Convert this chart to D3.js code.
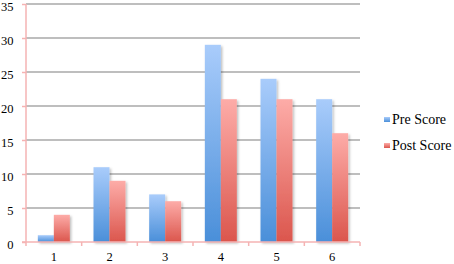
<!DOCTYPE html>
<html>
<head>
<meta charset="utf-8">
<script src="https://cdn.jsdelivr.net/npm/d3@7"></script>
<style>
  body { margin: 0; background: #fff; }
  svg { display: block; }
  text { font-family: "Liberation Serif", "DejaVu Serif", serif; fill: #000; }
</style>
</head>
<body>
<div id="chart"></div>
<script>
const categories = ["1", "2", "3", "4", "5", "6"];
const seriesNames = ["Pre Score", "Post Score"];
const preScore = [1, 11, 7, 29, 24, 21];
const postScore = [4, 9, 6, 21, 21, 16];
const yTicks = [0, 5, 10, 15, 20, 25, 30, 35];

const W = 454, H = 264;
const plot = { left: 26, right: 360, top: 4, bottom: 242 };
const pink = "#f5b3b3";

const svg = d3.select("#chart").append("svg")
    .attr("width", W)
    .attr("height", H);

// gradients + shadow
const defs = svg.append("defs");
const grads = [
    { id: "gPre", top: "#a9ccfb", bot: "#4a8fd9" },
    { id: "gPost", top: "#fdaca8", bot: "#db564d" }
];
grads.forEach(g => {
    const lg = defs.append("linearGradient")
        .attr("id", g.id)
        .attr("x1", 0).attr("y1", 0).attr("x2", 0).attr("y2", 1);
    lg.append("stop").attr("offset", "0%").attr("stop-color", g.top);
    lg.append("stop").attr("offset", "100%").attr("stop-color", g.bot);
});
const f = defs.append("filter").attr("id", "shadow")
    .attr("x", "-20%").attr("y", "-5%").attr("width", "160%").attr("height", "115%");
f.append("feDropShadow")
    .attr("dx", 1.5).attr("dy", 1.5).attr("stdDeviation", 1.2)
    .attr("flood-color", "#000").attr("flood-opacity", 0.25);

// scales
const x0 = d3.scaleBand()
    .domain(categories)
    .range([plot.left, plot.right])
    .padding(0);

const x1 = d3.scaleBand()
    .domain(seriesNames)
    .range([0, x0.bandwidth()])
    .paddingInner(0)
    .paddingOuter(0.74);

const y = d3.scaleLinear()
    .domain([0, 35])
    .range([plot.bottom, plot.top]);

// gridlines
svg.append("g")
    .selectAll("line")
    .data(yTicks.filter(d => d > 0))
    .enter()
    .append("line")
    .attr("x1", plot.left)
    .attr("x2", plot.right)
    .attr("y1", d => y(d))
    .attr("y2", d => y(d))
    .attr("stroke", "#a9a9a9")
    .attr("stroke-width", 1.5);

// y axis
const yAxis = svg.append("g")
    .attr("transform", `translate(${plot.left},0)`)
    .call(d3.axisLeft(y).tickValues(yTicks).tickSize(4).tickPadding(8));
yAxis.select(".domain").remove();
yAxis.selectAll(".tick line").attr("stroke", pink).attr("stroke-width", 1.5);
yAxis.selectAll(".tick text")
    .attr("x", -12.5)
    .attr("font-size", 12.5)
    .attr("dy", "0.5em")
    .attr("fill", "#000");
svg.append("line")
    .attr("x1", plot.left).attr("x2", plot.left)
    .attr("y1", plot.top).attr("y2", plot.bottom + 4)
    .attr("stroke", pink).attr("stroke-width", 1.5);

// bars
const series = [
    { name: seriesNames[0], values: preScore, fill: "url(#gPre)" },
    { name: seriesNames[1], values: postScore, fill: "url(#gPost)" }
];
series.forEach(s => {
    svg.append("g")
        .attr("filter", "url(#shadow)")
        .selectAll("rect")
        .data(categories)
        .enter()
        .append("rect")
        .attr("x", (c) => x0(c) + x1(s.name))
        .attr("y", (c, i) => y(s.values[i]))
        .attr("width", x1.bandwidth())
        .attr("height", (c, i) => plot.bottom - y(s.values[i]))
        .attr("fill", s.fill);
});

// x axis
svg.append("line")
    .attr("x1", plot.left - 4).attr("x2", plot.right)
    .attr("y1", plot.bottom).attr("y2", plot.bottom)
    .attr("stroke", pink).attr("stroke-width", 1.5);

const tickPos = categories.map(c => x0(c) + x0.bandwidth());
svg.append("g")
    .selectAll("line")
    .data(tickPos)
    .enter()
    .append("line")
    .attr("x1", d => d).attr("x2", d => d)
    .attr("y1", plot.bottom).attr("y2", plot.bottom + 4)
    .attr("stroke", pink).attr("stroke-width", 1.5);

svg.append("g")
    .selectAll("text")
    .data(categories)
    .enter()
    .append("text")
    .attr("x", c => x0(c) + x0.bandwidth() / 2)
    .attr("y", 261)
    .attr("text-anchor", "middle")
    .attr("font-size", 12.5)
    .text(c => c);

// legend
const legend = svg.append("g")
    .selectAll("g")
    .data(series)
    .enter()
    .append("g")
    .attr("transform", (d, i) => `translate(384,${117 + i * 26})`);
legend.append("rect")
    .attr("width", 6)
    .attr("height", 5)
    .attr("fill", d => d.fill);
legend.append("text")
    .attr("x", 8)
    .attr("y", 7)
    .attr("font-size", 14)
    .text(d => d.name);
</script>
</body>
</html>
